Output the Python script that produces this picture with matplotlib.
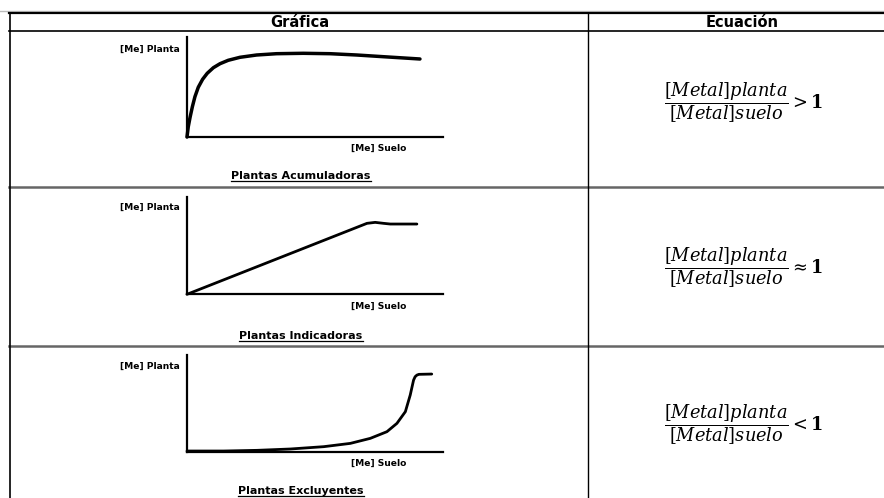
import matplotlib
matplotlib.use("Agg")
import matplotlib.pyplot as plt
from matplotlib.lines import Line2D

W, H = 884, 498
plt.rcParams['mathtext.fontset'] = 'dejavuserif'

# ---- data ----
headers = ["Gráfica", "Ecuación"]
titles = ["Plantas Acumuladoras", "Plantas Indicadoras", "Plantas Excluyentes"]
ylabel = "[Me] Planta"
xlabel = "[Me] Suelo"
relations = [">", r"\approx", "<"]

acc_x = [0, 0.5, 1.2, 2.1, 3.1, 4.4, 6.1, 7.9, 10.3, 12.9, 16.1, 20.7, 27.2, 35,
         45.4, 55.9, 66.3, 76.7, 91]
acc_y = [0, 10.3, 19.7, 30.3, 40.3, 49.7, 57.7, 63.7, 69.3, 73.3, 76.7, 79.7, 82, 83.3,
         83.7, 83.3, 82, 80.3, 78]
ind_x = [0, 70.3, 73.5, 76.8, 79.4, 89.8]
ind_y = [0, 72.7, 73.7, 72.7, 72, 72]
exc_x = [0, 14.3, 27.3, 40.4, 53.4, 63.8, 71.6, 78.1, 82, 85.3, 87.2, 88.5, 89.1, 89.8,
         90.6, 95.6]
exc_y = [0.7, 0.7, 1.4, 2.8, 5.2, 8.6, 13.8, 20.7, 29.3, 41.4, 58.6, 74, 77.5, 79.2,
         80, 80.3]
curves = [(acc_x, acc_y), (ind_x, ind_y), (exc_x, exc_y)]

fig = plt.figure(figsize=(W / 100, H / 100), dpi=100)

def fx(px):
    return px / W

def fy(py):
    return 1 - py / H

def hline(y, x0, x1, color="black", lw=1.2):
    fig.add_artist(Line2D([fx(x0), fx(x1)], [fy(y), fy(y)], color=color, lw=lw))

def vline(x, y0, y1, color="black", lw=1.2):
    fig.add_artist(Line2D([fx(x), fx(x)], [fy(y0), fy(y1)], color=color, lw=lw))

# ---- table lines ----
hline(11.5, 0, W, color="#bbbbbb", lw=1.0)
hline(13.5, 9, W, lw=1.6)
hline(31, 9, W, lw=1.2)
hline(187, 9, W, color="#666666", lw=1.8)
hline(346, 9, W, color="#666666", lw=1.8)
vline(9.5, 13, H, lw=1.2)
vline(588, 13, H, lw=1.0)

fig.text(fx(300), fy(22.5), headers[0], ha="center", va="center",
         fontsize=10.5, fontweight="bold", family="DejaVu Sans")
fig.text(fx(742), fy(22.5), headers[1], ha="center", va="center",
         fontsize=10.5, fontweight="bold", family="DejaVu Sans")

# ---- charts ----
axes_px = [(187, 37, 443, 137), (187, 196.7, 443, 294.3), (187, 355, 443, 451.7)]
ylab_y = [49, 207, 366]
xlab_y = [148, 306, 463]
title_y = [176, 336, 491]
eq_y = [103, 268, 425]

for i, (x0, y0, x1, y1) in enumerate(axes_px):
    ax = fig.add_axes([fx(x0), fy(y1), (x1 - x0) / W, (y1 - y0) / H])
    ax.set_xlim(0, 100)
    ax.set_ylim(0, 100)
    for s in ["top", "right"]:
        ax.spines[s].set_visible(False)
    for s in ["left", "bottom"]:
        ax.spines[s].set_linewidth(1.6)
    ax.set_xticks([])
    ax.set_yticks([])
    ax.patch.set_alpha(0)
    cx, cy = curves[i]
    ax.plot(cx, cy, color="black", lw=2.0 if i else 2.5, solid_capstyle="round",
            solid_joinstyle="round", clip_on=False)

    fig.text(fx(150), fy(ylab_y[i]), ylabel, ha="center", va="center",
             fontsize=6.6, fontweight="bold", family="DejaVu Sans")
    fig.text(fx(378.5), fy(xlab_y[i]), xlabel, ha="center", va="center",
             fontsize=6.6, fontweight="bold", family="DejaVu Sans")
    fig.text(fx(301), fy(title_y[i]), titles[i], ha="center", va="center",
             fontsize=8, fontweight="bold", family="DejaVu Sans")

    eq = r"$\dfrac{[Metal]planta}{[Metal]suelo}" + relations[i] + r"\mathbf{1}$"
    fig.text(fx(744), fy(eq_y[i]), eq, ha="center", va="center", fontsize=12.8)

fig.canvas.draw()
renderer = fig.canvas.get_renderer()
for t in fig.texts:
    if t.get_text() in titles:
        bb = t.get_window_extent(renderer)
        yb = bb.y0 - 0.3
        fig.add_artist(Line2D([bb.x0 / W, bb.x1 / W], [yb / H, yb / H], color="black", lw=0.9))

fig.savefig("out.png", dpi=100)
